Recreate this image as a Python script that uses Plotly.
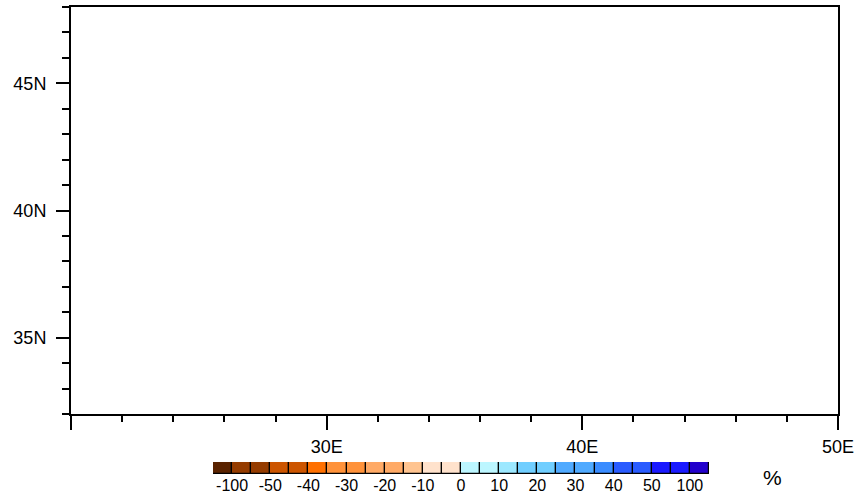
import plotly.graph_objects as go

W, H = 859, 498

# ---- data ----
lon_range = [20, 50]
lat_range = [32, 48]
lon_ticks = [20, 30, 40, 50]
lon_labels = ["", "30E", "40E", "50E"]
lat_ticks = [35, 40, 45]
lat_labels = ["35N", "40N", "45N"]

cbar_colors = [
    "#5A2300", "#953C00", "#953C00", "#CC5500", "#CC5500", "#FF7000",
    "#FF923A", "#FF923A", "#FFAA66", "#FFAA66", "#FFC490", "#FFE2CC",
    "#FFE2CC", "#BCF6FF", "#BCF6FF", "#9CE8FF", "#70CEFF", "#70CEFF",
    "#50AAFF", "#50AAFF", "#3A8CFF", "#2A5CFF", "#2A5CFF", "#1A1AFF",
    "#1A1AFF", "#2200CC",
]
cbar_labels = ["-100", "-50", "-40", "-30", "-20", "-10", "0",
               "10", "20", "30", "40", "50", "100"]
cbar_units = "%"

def px_x(a, b):
    return [a / W, b / W]

def px_y(top, bottom):
    return [1 - bottom / H, 1 - top / H]

FAM = "Liberation Sans, Arial, Helvetica, sans-serif"
AXFONT = dict(family=FAM, size=18, color="black")
CBFONT = dict(family=FAM, size=16, color="black")

fig = go.Figure()

# empty map frame
fig.add_trace(go.Scatter(x=[None], y=[None], mode="markers", showlegend=False,
                         hoverinfo="skip", xaxis="x", yaxis="y"))

# label bar (colour key) drawn as bars
n = len(cbar_colors)
fig.add_trace(go.Bar(
    x=[i + 0.5 for i in range(n)], y=[1] * n, width=1,
    marker=dict(color=cbar_colors, line=dict(color="black", width=1.2)),
    showlegend=False, hoverinfo="skip", xaxis="x2", yaxis="y2",
))

fig.update_layout(
    template="none",
    width=W, height=H, autosize=False,
    margin=dict(l=0, r=0, t=0, b=0, pad=0, autoexpand=False),
    paper_bgcolor="white", plot_bgcolor="white",
    font=AXFONT,
    xaxis=dict(
        domain=px_x(71, 838), range=lon_range, anchor="y", automargin=False,
        showgrid=False, zeroline=False,
        showline=True, linecolor="black", linewidth=2, mirror=True,
        ticks="outside", ticklen=14, tickwidth=2, tickcolor="black",
        tickvals=lon_ticks, ticktext=lon_labels, ticklabelstandoff=1,
        minor=dict(tick0=20, dtick=2, ticks="outside", ticklen=6,
                   tickwidth=1.5, tickcolor="black", showgrid=False),
        tickfont=AXFONT,
    ),
    yaxis=dict(
        domain=px_y(7, 414), range=lat_range, anchor="x", automargin=False,
        showgrid=False, zeroline=False,
        showline=True, linecolor="black", linewidth=2, mirror=True,
        ticks="outside", ticklen=13, tickwidth=2, tickcolor="black",
        tickvals=lat_ticks, ticktext=lat_labels, ticklabelstandoff=6,
        minor=dict(tick0=32, dtick=1, ticks="outside", ticklen=7,
                   tickwidth=1.5, tickcolor="black", showgrid=False),
        tickfont=AXFONT,
    ),
    xaxis2=dict(
        domain=px_x(213, 709), range=[0, n], anchor="y2", automargin=False,
        showgrid=False, zeroline=False, showline=False,
        ticks="", tickvals=list(range(1, n, 2)), ticktext=cbar_labels,
        tickfont=CBFONT, ticklabelstandoff=0,
    ),
    yaxis2=dict(
        domain=px_y(462, 474), range=[0, 1], anchor="x2", automargin=False,
        showgrid=False, zeroline=False, showline=False,
        showticklabels=False, ticks="",
    ),
    bargap=0,
    annotations=[dict(
        text=cbar_units, xref="paper", yref="paper",
        x=772 / W, y=1 - 477 / H, showarrow=False,
        font=dict(family=FAM, size=21, color="black"),
        xanchor="center", yanchor="middle",
    )],
)

post = "document.body.style.margin='0';document.body.style.overflow='hidden';"

fig.write_html("out.html", post_script=post,
               config={"displayModeBar": False, "responsive": False})
